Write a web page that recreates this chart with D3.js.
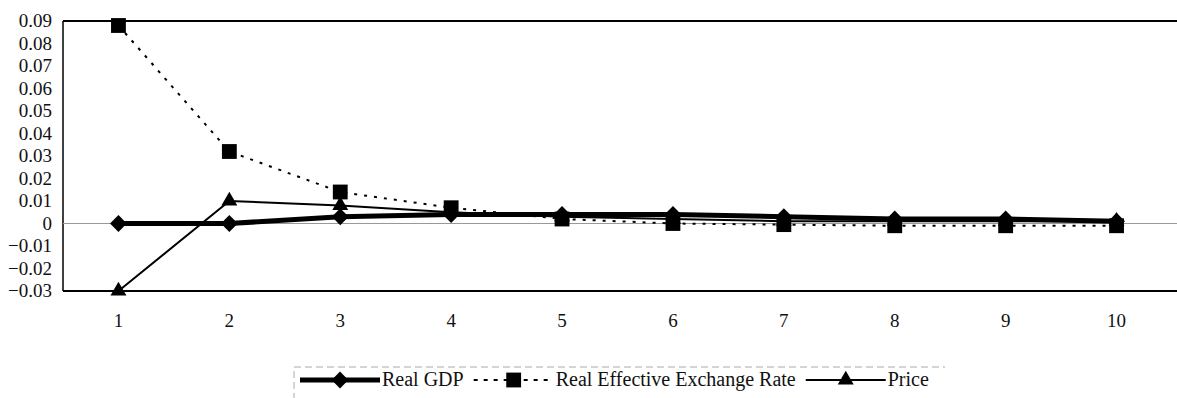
<!DOCTYPE html>
<html><head><meta charset="utf-8">
<script src="https://cdn.jsdelivr.net/npm/d3@7"></script>
<style>body{margin:0;background:#fff}svg{display:block}svg text{font-family:"Liberation Serif","DejaVu Serif",serif !important;fill:#111}</style>
</head><body>
<script>
const periods = [1,2,3,4,5,6,7,8,9,10];
const realGDP = [0, 0, 0.003, 0.004, 0.004, 0.004, 0.003, 0.002, 0.002, 0.001];
const reer = [0.088, 0.032, 0.014, 0.007, 0.002, 0.0, -0.0005, -0.001, -0.001, -0.001];
const price = [-0.030, 0.010, 0.008, 0.005, 0.003, 0.002, 0.001, 0.001, 0.001, 0.001];
const yTicks = [0.09,0.08,0.07,0.06,0.05,0.04,0.03,0.02,0.01,0,-0.01,-0.02,-0.03];
const seriesNames = ["Real GDP","Real Effective Exchange Rate","Price"];

const W=1177,H=398;
const FONT='"Liberation Serif", serif';
const m={l:63,r:1172,t:21,b:291};
const svg=d3.select("body").append("svg").attr("width",W).attr("height",H);
const x=d3.scaleBand().domain(periods).range([m.l,m.r]);
const y=d3.scaleLinear().domain([-0.03,0.09]).range([m.b,m.t]);
const cx=d=>x(d)+x.bandwidth()/2;

// frame
svg.append("line").attr("x1",m.l).attr("x2",W).attr("y1",m.t).attr("y2",m.t).attr("stroke","#000").attr("stroke-width",2);
svg.append("line").attr("x1",m.l).attr("x2",W).attr("y1",m.b).attr("y2",m.b).attr("stroke","#000").attr("stroke-width",2);
svg.append("line").attr("x1",m.l).attr("x2",m.l).attr("y1",m.t).attr("y2",m.b).attr("stroke","#000").attr("stroke-width",1.5);
// zero line
svg.append("line").attr("x1",m.l).attr("x2",W).attr("y1",y(0)).attr("y2",y(0)).attr("stroke","#999").attr("stroke-width",1);

// y axis
const ya=svg.append("g").attr("transform",`translate(${m.l},0)`).call(d3.axisLeft(y).tickValues(yTicks).tickSize(0).tickPadding(11).tickFormat(d=>d===0?"0":d3.format(".2f")(d)));
ya.attr("font-family",FONT).attr("font-size",19);
ya.select(".domain").remove();
ya.selectAll("text").attr("dy","0.3em");
// x axis
const xa=svg.append("g").attr("transform",`translate(0,${m.b})`).call(d3.axisBottom(x).tickSize(0).tickPadding(23));
xa.attr("font-family",FONT).attr("font-size",19);
xa.select(".domain").remove();

const line=d3.line().x((d,i)=>cx(periods[i])).y(d=>y(d));
const sym={
  diamond:d3.symbol().type(d3.symbolDiamond2).size(180),
  square:d3.symbol().type(d3.symbolSquare).size(220),
  triangle:d3.symbol().type(d3.symbolTriangle).size(110)
};
const specs=[
  {data:price,w:2,dash:null,sym:"triangle"},
  {data:reer,w:2,dash:"3,7",sym:"square"},
  {data:realGDP,w:5,dash:null,sym:"diamond"}
];
specs.forEach(s=>{
  svg.append("path").datum(s.data).attr("d",line).attr("fill","none").attr("stroke","#000").attr("stroke-width",s.w).attr("stroke-dasharray",s.dash);
  svg.append("g").selectAll("path").data(s.data).join("path")
    .attr("transform",(d,i)=>`translate(${cx(periods[i])},${y(d)})`).attr("d",sym[s.sym]()).attr("fill","#000");
});

// legend
const lg=svg.append("g").attr("font-family",FONT).attr("font-size",20);
const lx=300, ly=380;
lg.append("path").attr("d",`M294,${H+2}V367H945`).attr("fill","none").attr("stroke","#aaa").attr("stroke-dasharray","7,4").attr("stroke-width",1);
const items=[
  {name:seriesNames[0],w:5,dash:null,sym:"diamond"},
  {name:seriesNames[1],w:2,dash:"4,6",sym:"square"},
  {name:seriesNames[2],w:2,dash:null,sym:"triangle"}
];
let cur=lx;
items.forEach(it=>{
  lg.append("line").attr("x1",cur).attr("x2",cur+80).attr("y1",ly).attr("y2",ly).attr("stroke","#000").attr("stroke-width",it.w).attr("stroke-dasharray",it.dash);
  lg.append("path").attr("transform",`translate(${cur+40},${ly})`).attr("d",sym[it.sym]()).attr("fill","#000");
  const t=lg.append("text").attr("x",cur+82).attr("y",ly+6).text(it.name);
  cur+=82+t.node().getComputedTextLength()+10;
});
</script>
</body></html>
